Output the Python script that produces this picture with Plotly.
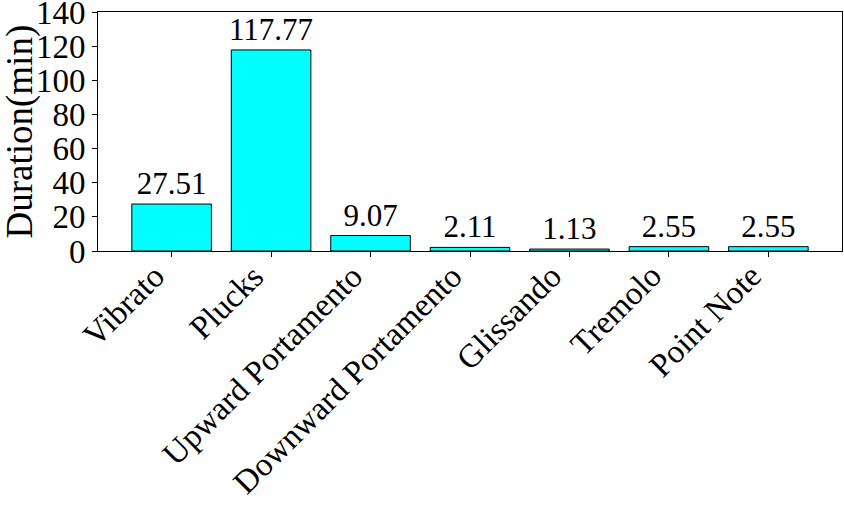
import plotly.graph_objects as go

categories = ["Vibrato", "Plucks", "Upward Portamento", "Downward Portamento",
              "Glissando", "Tremolo", "Point Note"]
durations = [27.51, 117.77, 9.07, 2.11, 1.13, 2.55, 2.55]
y_ticks = [0, 20, 40, 60, 80, 100, 120, 140]

font = "Liberation Serif, Times New Roman, serif"
L, R, T, B = 98, 2, 12, 255
W, H = 844, 506

fig = go.Figure(go.Bar(
    x=list(range(len(categories))),
    y=durations,
    width=0.8,
    marker=dict(color="#00ffff", line=dict(color="black", width=1)),
    text=[f"{v:.2f}" for v in durations],
    textposition="outside",
    constraintext="none",
    textfont=dict(family=font, size=31, color="black"),
    cliponaxis=False,
))

fig.update_layout(
    width=W, height=H,
    margin=dict(l=L, r=R, t=T, b=B, autoexpand=False),
    plot_bgcolor="white", paper_bgcolor="white",
    font=dict(family=font, color="black"),
    showlegend=False,
)
fig.update_xaxes(
    range=[-0.74, 6.74],
    tickmode="array", tickvals=list(range(len(categories))),
    showticklabels=False,
    ticks="outside", ticklen=5, tickcolor="black",
    showline=True, linecolor="black", linewidth=1, mirror=True,
    showgrid=False, zeroline=False, automargin=False,
)
fig.update_yaxes(
    range=[0, 140],
    tickmode="array", tickvals=y_ticks, ticktext=[str(v) for v in y_ticks],
    tickfont=dict(size=33, family=font),
    ticks="outside", ticklen=5, tickcolor="black",
    showline=True, linecolor="black", linewidth=1, mirror=True,
    showgrid=False, zeroline=False, automargin=False,
    ticklabeloverflow="allow",
)
for i, name in enumerate(categories):
    fig.add_annotation(
        text=name, textangle=-45,
        x=i, xref="x", y=0, yref="paper",
        xanchor="right", yanchor="top", yshift=-4, xshift=2,
        showarrow=False,
        font=dict(size=33, family=font, color="black"),
    )
fig.add_annotation(
    text="Duration(min)", textangle=-90,
    xref="paper", yref="paper",
    x=-(L - 19) / (W - L - R), y=0.5,
    xanchor="center", yanchor="middle", showarrow=False,
    font=dict(size=37, family=font, color="black"),
)

fig.write_html(
    "out.html",
    config={"displayModeBar": False},
    post_script="document.body.style.margin='0';document.body.style.overflow='hidden';",
)
